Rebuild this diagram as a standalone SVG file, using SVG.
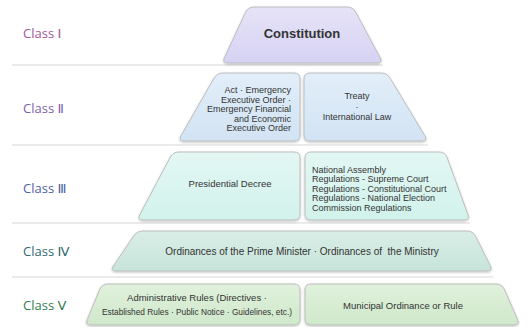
<svg xmlns="http://www.w3.org/2000/svg" width="531" height="327" viewBox="0 0 531 327">
<defs>
<linearGradient id="g1" x1="0" y1="0" x2="0" y2="1"><stop offset="0" stop-color="#e6e3f8"/><stop offset="1" stop-color="#d6d2f3"/></linearGradient>
<linearGradient id="g2" x1="0" y1="0" x2="0" y2="1"><stop offset="0" stop-color="#e2eef9"/><stop offset="1" stop-color="#d2e3f4"/></linearGradient>
<linearGradient id="g3" x1="0" y1="0" x2="0" y2="1"><stop offset="0" stop-color="#e3f7f3"/><stop offset="1" stop-color="#d2f2ec"/></linearGradient>
<linearGradient id="g4" x1="0" y1="0" x2="0" y2="1"><stop offset="0" stop-color="#d9eee6"/><stop offset="1" stop-color="#c7e4da"/></linearGradient>
<linearGradient id="g5" x1="0" y1="0" x2="0" y2="1"><stop offset="0" stop-color="#e0f1dc"/><stop offset="1" stop-color="#cfe8ca"/></linearGradient>
<filter id="sh" x="-10%" y="-10%" width="120%" height="130%"><feDropShadow dx="0" dy="1" stdDeviation="0.8" flood-color="#000" flood-opacity="0.25"/></filter>
</defs>
<style>
.shape{stroke:#bdbdbd;stroke-width:1;filter:url(#sh)}
.sep{stroke:#ebebeb;stroke-width:2;fill:none}
.lbl{font-family:"Open Sans","DejaVu Sans",sans-serif;font-size:13px}
.t{font-family:"Liberation Sans",Arial,sans-serif;font-size:9.5px;fill:#333}
.s{font-size:9px}
</style>
<g id="separators">
<line class="sep" x1="12" y1="65" x2="383" y2="65"/>
<line class="sep" x1="12" y1="145" x2="428" y2="145"/>
<line class="sep" x1="12" y1="223" x2="470" y2="223"/>
<line class="sep" x1="12" y1="277" x2="493" y2="277"/>
</g>
<g id="labels">
<text class="lbl" x="23" y="38" fill="#a3559b">Class Ⅰ</text>
<text class="lbl" x="23" y="113" fill="#7d5fae">Class Ⅱ</text>
<text class="lbl" x="23" y="193" fill="#4f5fa3">Class Ⅲ</text>
<text class="lbl" x="23" y="256" fill="#2f6a72">Class Ⅳ</text>
<text class="lbl" x="23" y="310" fill="#2f7f52">Class Ⅴ</text>
</g>
<g id="constitution">
<path class="shape" fill="url(#g1)" d="M254,7 L347,7 Q353,7 355.8,12.3 L380.2,57.7 Q383,63 377,63 L228,63 Q222,63 224.5,57.5 L245.5,12.5 Q248,7 254,7 Z"/>
<text x="302" y="38" text-anchor="middle" style="font-family:'Liberation Sans',Arial,sans-serif;font-size:13px;font-weight:bold;fill:#333">Constitution</text>
</g>
<g id="act">
<path class="shape" fill="url(#g2)" d="M223,73 L294,73 Q300,73 300,79 L300,135 Q300,141 294,141 L184,141 Q178,141 181,135.8 L214,78.2 Q217,73 223,73 Z"/>
<text class="t s" text-anchor="end" x="291"><tspan x="291" y="93">Act · Emergency</tspan><tspan x="291" y="102.5">Executive Order ·</tspan><tspan x="291" y="112">Emergency Financial</tspan><tspan x="291" y="121.5">and Economic</tspan><tspan x="291" y="131">Executive Order</tspan></text>
</g>
<g id="treaty">
<path class="shape" fill="url(#g2)" d="M310,73 L381,73 Q387,73 390.1,78.2 L424.9,135.8 Q428,141 422,141 L310,141 Q304,141 304,135 L304,79 Q304,73 310,73 Z"/>
<text class="t s" text-anchor="middle"><tspan x="357" y="99">Treaty</tspan><tspan x="357" y="109.5">·</tspan><tspan x="357" y="120">International Law</tspan></text>
</g>
<g id="presidential">
<path class="shape" fill="url(#g3)" d="M179,152 L294,152 Q300,152 300,158 L300,214 Q300,220 294,220 L143,220 Q137,220 139.8,214.7 L170.2,157.3 Q173,152 179,152 Z"/>
<text class="t" x="230" y="187" text-anchor="middle">Presidential Decree</text>
</g>
<g id="assembly">
<path class="shape" fill="url(#g3)" d="M311,152 L439,152 Q445,152 447.1,157.6 L467.9,214.4 Q470,220 464,220 L311,220 Q305,220 305,214 L305,158 Q305,152 311,152 Z"/>
<text class="t s"><tspan x="312" y="173">National Assembly</tspan><tspan x="312" y="182">Regulations - Supreme Court</tspan><tspan x="312" y="191.5">Regulations - Constitutional Court</tspan><tspan x="312" y="201">Regulations - National Election</tspan><tspan x="312" y="210.5">Commission Regulations</tspan></text>
</g>
<g id="ordinances">
<path class="shape" fill="url(#g4)" d="M143,231 L467,231 Q473,231 475.7,236.4 L490.3,265.6 Q493,271 487,271 L116,271 Q110,271 113.4,266 L133.6,236 Q137,231 143,231 Z"/>
<text class="t" x="302" y="255" text-anchor="middle" style="font-size:10px" xml:space="preserve">Ordinances of the Prime Minister · Ordinances of  the Ministry</text>
</g>
<g id="administrative">
<path class="shape" fill="url(#g5)" d="M108,284 L294,284 Q300,284 300,290 L300,319 Q300,325 294,325 L91,325 Q85,325 87.3,319.5 L99.7,289.5 Q102,284 108,284 Z"/>
<text class="t" text-anchor="middle"><tspan x="197" y="301">Administrative Rules (Directives ·</tspan><tspan x="197" y="315" textLength="190" lengthAdjust="spacingAndGlyphs">Established Rules · Public Notice · Guidelines, etc.)</tspan></text>
</g>
<g id="municipal">
<path class="shape" fill="url(#g5)" d="M311,284 L496,284 Q502,284 504.4,289.5 L517.6,319.5 Q520,325 514,325 L311,325 Q305,325 305,319 L305,290 Q305,284 311,284 Z"/>
<text class="t" x="403" y="309" text-anchor="middle">Municipal Ordinance or Rule</text>
</g>
</svg>
